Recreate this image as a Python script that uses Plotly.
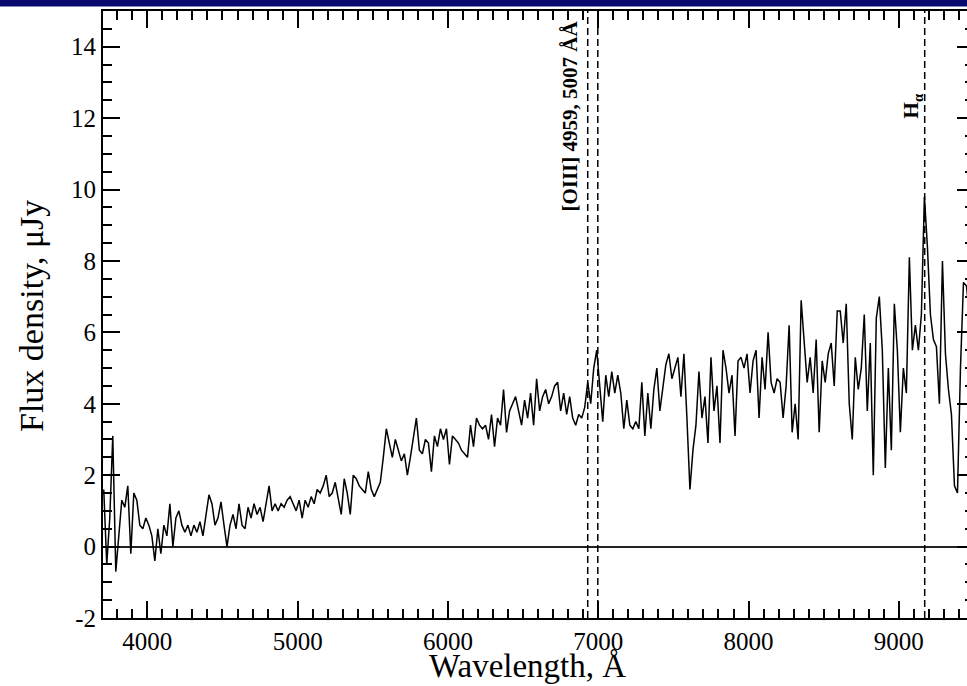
import plotly.graph_objects as go

# ---------------- data ----------------
WAVE_START = 3710   # Angstrom, first sample
WAVE_STEP = 20      # Angstrom between samples

flux = [
    1.6, -0.5, 0.8, 3.1, -0.7, 0.2, 1.3, 1.1, 1.7, -0.2,
    1.5, 1.3, 0.6, 0.5, 0.8, 0.6, 0.3, -0.4, 0.5, -0.2,
    0.6, 0.3, 1.2, 0.0, 0.8, 1.0, 0.6, 0.4, 0.6, 0.3,
    0.6, 0.4, 0.7, 0.3, 0.9, 1.45, 1.2, 0.6, 0.8, 1.25,
    0.6, 0.0, 0.6, 0.9, 0.5, 1.2, 0.6, 0.5, 1.1, 0.8,
    1.2, 0.9, 1.1, 0.7, 1.2, 1.7, 1.0, 1.2, 1.0, 1.2,
    1.1, 1.3, 1.4, 1.2, 1.0, 1.3, 0.8, 1.3, 1.1, 1.4,
    1.2, 1.6, 1.5, 1.7, 2.0, 1.4, 1.5, 1.8, 1.3, 0.9,
    1.9, 1.5, 0.9, 2.0, 1.9, 1.7, 1.6, 1.5, 2.1, 1.6,
    1.4, 1.6, 1.8, 2.5, 3.3, 2.9, 2.5, 3.0, 2.7, 2.4,
    2.6, 2.0, 2.5, 3.0, 3.6, 2.7, 2.6, 3.0, 2.9, 2.1,
    3.1, 2.8, 3.3, 3.0, 3.3, 2.3, 3.1, 3.0, 2.9, 2.7,
    2.6, 2.5, 3.4, 2.8, 3.6, 3.4, 3.3, 3.4, 3.0, 3.7,
    2.8, 3.6, 3.4, 4.4, 3.2, 3.8, 4.0, 4.2, 3.8, 3.4,
    4.1, 3.6, 4.3, 3.4, 4.7, 3.8, 4.2, 4.4, 4.0, 4.2,
    4.5, 4.6, 3.8, 4.3, 3.7, 4.2, 3.6, 3.4, 3.7, 3.6,
    3.9, 4.6, 4.0, 5.0, 5.5, 4.4, 3.5, 4.8, 4.2, 4.9,
    4.3, 4.8, 4.3, 3.3, 4.1, 3.4, 3.3, 3.5, 3.3, 4.6,
    3.1, 4.3, 3.3, 4.4, 5.0, 3.8, 4.4, 5.1, 5.4, 4.7,
    5.0, 5.3, 4.2, 5.4, 3.6, 1.6, 2.7, 3.4, 4.9, 3.6,
    4.2, 2.9, 5.3, 3.8, 4.5, 2.9, 5.5, 5.0, 4.3, 4.8,
    3.1, 5.2, 5.3, 5.0, 5.4, 4.3, 5.2, 5.5, 3.6, 5.3,
    4.4, 6.0, 4.6, 4.3, 4.7, 4.6, 3.6, 4.5, 6.2, 3.2,
    4.0, 3.0, 6.9, 5.6, 4.6, 5.3, 4.3, 5.8, 3.2, 5.2,
    4.6, 5.4, 5.7, 4.5, 6.6, 6.6, 5.7, 6.8, 4.0, 3.0,
    5.3, 4.4, 5.0, 6.5, 3.8, 5.7, 2.0, 6.4, 7.0, 5.5,
    2.2, 5.0, 2.7, 6.8, 5.5, 3.2, 5.0, 4.3, 8.1, 5.5,
    6.2, 5.5, 6.5, 9.8, 8.4, 6.5, 5.8, 5.6, 4.0, 8.0,
    5.4, 4.4, 3.7, 1.7, 1.5, 5.0, 7.4, 7.3, 6.5, 6.8,
]
wavelength = [WAVE_START + WAVE_STEP * i for i in range(len(flux))]

# emission lines (observed wavelengths) and their labels
oiii_lines = [6930, 6997]
halpha_line = [9172]
oiii_label = "[OIII] 4959, 5007 ÅÅ"
halpha_label = "H<sub>α</sub>"

x_range = [3705, 9500]
y_range = [-2, 15]
x_tickvals = [4000, 5000, 6000, 7000, 8000, 9000]
x_ticktext = ["4000", "5000", "6000", "7000", "8000", "9000"]
y_tickvals = [-2, 0, 2, 4, 6, 8, 10, 12, 14]
y_ticktext = ["-2", "0", "2", "4", "6", "8", "10", "12", "14"]

# ---------------- figure ----------------
SERIF = "Liberation Serif, Times New Roman, serif"

fig = go.Figure()
fig.add_trace(go.Scatter(
    x=wavelength, y=flux, mode="lines",
    line=dict(color="black", width=1.5),
    hoverinfo="skip", showlegend=False,
))

for wl in oiii_lines + halpha_line:
    fig.add_shape(type="line", xref="x", yref="paper",
                  x0=wl, x1=wl, y0=0, y1=1,
                  line=dict(color="black", width=1.5, dash="7px,4px"))

# navy strip at the very top of the page
fig.add_shape(type="rect", xref="paper", yref="paper",
              x0=-0.2, x1=1.1, y0=1.0075, y1=1.02,
              fillcolor="#0a0a6e", line=dict(width=0), layer="above")

fig.add_annotation(x=6812, y=12.07, xref="x", yref="y", text=oiii_label,
                   textangle=-90, showarrow=False, xanchor="center", yanchor="middle",
                   font=dict(family=SERIF, size=21, color="black", weight="bold"))
fig.add_annotation(x=9086, y=12.35, xref="x", yref="y", text=halpha_label,
                   textangle=-90, showarrow=False, xanchor="center", yanchor="middle",
                   font=dict(family=SERIF, size=21, color="black", weight="bold"))

fig.add_annotation(x=0.4868, y=-0.079, xref="paper", yref="paper",
                   text="Wavelength, Å", showarrow=False,
                   xanchor="center", yanchor="middle",
                   font=dict(family=SERIF, size=33, color="black"))
fig.add_annotation(x=-0.0827, y=0.4975, xref="paper", yref="paper",
                   text="Flux density, μJy", showarrow=False, textangle=-90,
                   xanchor="center", yanchor="middle",
                   font=dict(family=SERIF, size=34, color="black"))

axis_common = dict(
    showgrid=False, showline=True, linecolor="black", linewidth=2,
    mirror="allticks", ticks="inside", ticklen=17, tickwidth=1.5, tickcolor="black",
    tickfont=dict(family=SERIF, size=25, color="black"),
)
fig.update_xaxes(range=x_range, tickvals=x_tickvals, ticktext=x_ticktext,
                 zeroline=False,
                 minor=dict(dtick=100, tick0=0, ticks="inside", ticklen=9,
                            tickwidth=1.5, tickcolor="black"),
                 **axis_common)
fig.update_yaxes(range=y_range, tickvals=y_tickvals, ticktext=y_ticktext,
                 zeroline=True, zerolinecolor="#222222", zerolinewidth=1.5,
                 minor=dict(dtick=0.5, tick0=0, ticks="inside", ticklen=9,
                            tickwidth=1.5, tickcolor="black"),
                 **axis_common)

fig.update_layout(
    width=990, height=686,
    margin=dict(l=103, r=16, t=9, b=68),
    paper_bgcolor="white", plot_bgcolor="white",
    showlegend=False,
)

fig.write_html(
    "out.html",
    config={"displayModeBar": False},
    post_script="document.body.style.margin='0';document.body.style.overflow='hidden';"
                "document.documentElement.style.overflow='hidden';",
)
